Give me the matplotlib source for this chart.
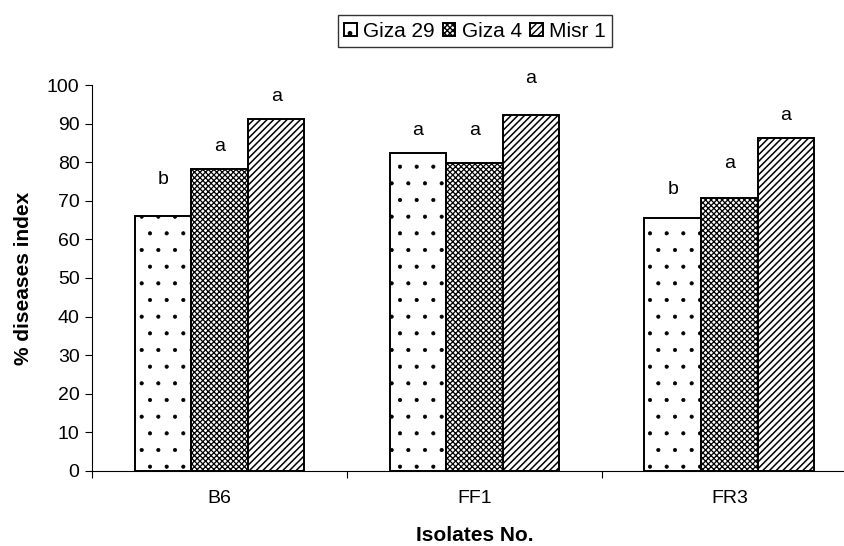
import numpy as np
import matplotlib
matplotlib.use("Agg")
import matplotlib.pyplot as plt

plt.rcParams['font.family'] = ['Liberation Sans', 'DejaVu Sans']

# data
isolates = ["B6", "FF1", "FR3"]
cultivars = ["Giza 29", "Giza 4", "Misr 1"]
giza29 = [66.0, 82.4, 65.5]
giza4 = [78.2, 79.8, 70.6]
misr1 = [91.3, 92.2, 86.3]
giza29_letters = ["b", "a", "b"]
giza4_letters = ["a", "a", "a"]
misr1_letters = ["a", "a", "a"]
# letter heights (data units) as placed in the original
giza29_lab_y = [75.4, 88.3, 72.8]
giza4_lab_y = [84.0, 88.3, 79.7]
misr1_lab_y = [96.9, 101.7, 92.2]

series = [giza29, giza4, misr1]
letters = [giza29_letters, giza4_letters, misr1_letters]
lab_ys = [giza29_lab_y, giza4_lab_y, misr1_lab_y]
hatches = ['.', 'xxxxxx', '/////']
hatch_lw = [0.5, 0.9, 1.1]

fig = plt.figure(figsize=(8.45, 5.46), dpi=100)
ax = fig.add_axes([0.109, 0.1374, 1.014 - 0.109, 0.8443 - 0.1374])

x = np.arange(len(isolates))
w = 0.222
for i, (vals, name, h) in enumerate(zip(series, cultivars, hatches)):
    pos = x + (i - 1) * w
    with plt.rc_context({'hatch.linewidth': hatch_lw[i]}):
        ax.bar(pos, vals, width=w, facecolor='white', edgecolor='black',
               hatch=h, linewidth=1.4, label=name)
    for px, ly, t in zip(pos, lab_ys[i], letters[i]):
        ax.text(px, ly, t, ha='center', va='center', fontsize=14, clip_on=False)

ax.set_xlim(-0.5, 2.5)
ax.set_ylim(0, 100)
ax.set_yticks(range(0, 101, 10))
ax.tick_params(axis='y', labelsize=14, length=5, direction='out', pad=4)

# ticks at category boundaries, labels at centers
ax.set_xticks([-0.5, 0.5, 1.5, 2.5])
ax.set_xticklabels([])
ax.set_xticks(x, minor=True)
ax.set_xticklabels(isolates, minor=True)
ax.tick_params(axis='x', which='major', length=5, direction='out')
ax.tick_params(axis='x', which='minor', length=0, labelsize=14, pad=14)

for s in ['top', 'right']:
    ax.spines[s].set_visible(False)

ax.set_ylabel("% diseases index", fontsize=15, fontweight='bold', labelpad=10)
fig.text(0.562, 0.02, "Isolates No.", ha='center', va='center',
         fontsize=15, fontweight='bold')

leg = fig.legend(loc='center', bbox_to_anchor=(0.562, 0.943), ncol=3,
                 fontsize=15, frameon=True, fancybox=False, edgecolor='black',
                 handlelength=0.6, handleheight=0.6, handletextpad=0.3,
                 columnspacing=0.4, borderpad=0.3)
leg.get_frame().set_linewidth(1.0)

fig.savefig("out.png", dpi=100)
